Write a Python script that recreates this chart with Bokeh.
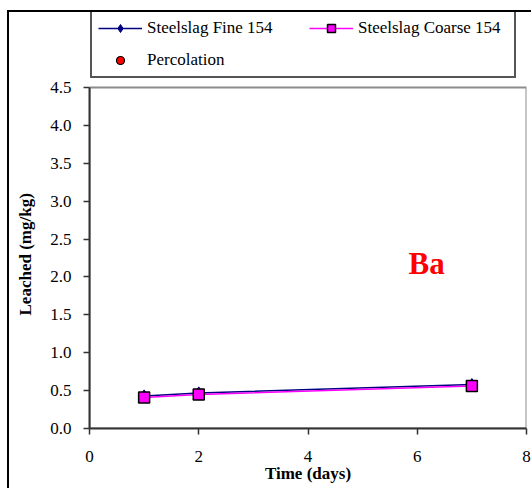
import numpy as np
from bokeh.plotting import figure
from bokeh.models import (Legend, LegendItem, Label, FixedTicker, BoxAnnotation, Title,
                          PrintfTickFormatter, Range1d, InlineStyleSheet)
from bokeh.embed import file_html
from bokeh.resources import INLINE

# ---- data ----
days = [1, 2, 7]
fine_154 = [0.43, 0.47, 0.58]
coarse_154 = [0.41, 0.45, 0.56]
percolation_days = [np.nan]        # legend entry only: no percolation values plotted
percolation_vals = [np.nan]
x_ticks = [0, 2, 4, 6, 8]
y_ticks = [0.0, 0.5, 1.0, 1.5, 2.0, 2.5, 3.0, 3.5, 4.0, 4.5]
series_names = ["Steelslag Fine 154", "Steelslag Coarse 154", "Percolation"]
element_label = "Ba"
x_title = "Time (days)"
y_title = "Leached (mg/kg)"

SERIF = "Liberation Serif"
AXIS_COLOR = "#333333"

# layout (pixels): the frame reaches up to the legend so that the legend is not clipped
W, H = 531, 488
FRAME_TOP, FRAME_BOTTOM = 12, 428
PLOT_TOP = 87                      # where the y-axis maximum sits
y_max = y_ticks[-1]
y_top = y_max * (FRAME_BOTTOM - FRAME_TOP) / (FRAME_BOTTOM - PLOT_TOP)

p = figure(width=W, height=H, output_backend="svg", toolbar_location=None,
           x_range=Range1d(x_ticks[0], x_ticks[-1]), y_range=Range1d(0, y_top),
           min_border_left=89, min_border_right=5, min_border_top=FRAME_TOP,
           min_border_bottom=H - FRAME_BOTTOM)
p.xgrid.visible = False
p.ygrid.visible = False
p.outline_line_color = None
p.background_fill_color = "white"
p.border_fill_color = "white"

for ax in (p.xaxis[0], p.yaxis[0]):
    ax.axis_line_color = AXIS_COLOR
    ax.axis_line_width = 2
    ax.major_tick_line_color = AXIS_COLOR
    ax.major_tick_line_width = 1.5
    ax.major_tick_out = 6
    ax.major_tick_in = 0
    ax.minor_tick_line_color = None
    ax.major_label_text_font = SERIF
    ax.major_label_text_font_size = "17px"
    ax.major_label_text_color = "black"
    ax.axis_label_text_font = SERIF
    ax.axis_label_text_font_style = "bold"
    ax.axis_label_text_font_size = "17px"
    ax.axis_label_text_color = "black"

p.xaxis.ticker = FixedTicker(ticks=x_ticks)
p.yaxis.ticker = FixedTicker(ticks=y_ticks)
p.yaxis.bounds = (0, y_max)
p.xaxis.bounds = (x_ticks[0], x_ticks[-1])
p.yaxis.formatter = PrintfTickFormatter(format="%.1f")
p.xaxis.axis_label = x_title
p.xaxis.major_label_standoff = 16
p.xaxis.axis_label_standoff = -1
p.yaxis.major_label_standoff = 12

# y title as a side title, placed along the 0-4.5 part of the axis
p.add_layout(Title(text=y_title, align="left", offset=113, standoff=26,
                   text_font=SERIF, text_font_style="bold", text_font_size="17px",
                   text_color="black"), "left")

# plot-area border (grey, as in the reference)
p.add_layout(BoxAnnotation(left=x_ticks[0], right=x_ticks[-1], bottom=0, top=y_max,
                           fill_alpha=0, line_color="#8c8c8c", line_width=2,
                           line_alpha=1, line_dash="solid", level="underlay"))

# ---- series ----
fine_line = p.line(days, fine_154, line_color="#000080", line_width=1.5)
fine_pts = p.scatter(days, fine_154, marker="diamond", size=12,
                     fill_color="#000080", line_color="#000080")
coarse_line = p.line(days, coarse_154, line_color="#FF00FF", line_width=1.5)
coarse_pts = p.scatter(days, coarse_154, marker="square", size=11,
                       fill_color="#FF00FF", line_color="black", line_width=1.5)
perc_pts = p.scatter(percolation_days, percolation_vals, marker="circle", size=10,
                     fill_color="red", line_color="black", line_width=1.2)

legend = Legend(items=[LegendItem(label=series_names[0], renderers=[fine_line, fine_pts]),
                       LegendItem(label=series_names[1], renderers=[coarse_line, coarse_pts]),
                       LegendItem(label=series_names[2], renderers=[perc_pts])],
                location=(1, 350), orientation="horizontal", ncols=2,
                glyph_width=44, glyph_height=20, label_height=20, label_width=150,
                label_standoff=5, spacing=12, padding=6, margin=0,
                border_line_color="#555555", border_line_width=2, border_line_alpha=1,
                background_fill_color="white", background_fill_alpha=1,
                label_text_font=SERIF, label_text_font_size="17px",
                label_text_color="black")
p.add_layout(legend)

p.add_layout(Label(x=5.84, y=2.18, text=element_label, text_font=SERIF,
                   text_font_style="bold", text_font_size="31px", text_color="red",
                   text_baseline="alphabetic"))

# outer chart border (left and top edges visible in the reference)
p.stylesheets = [InlineStyleSheet(css=(
    ":host { position: relative; }"
    ":host::after { content: ''; position: absolute; left: 7px; top: 10px;"
    " width: 524px; height: 478px; box-sizing: border-box;"
    " border-left: 2px solid black; border-top: 2px solid black;"
    " pointer-events: none; }"))]

open("out.html", "w").write(file_html(p, INLINE))
